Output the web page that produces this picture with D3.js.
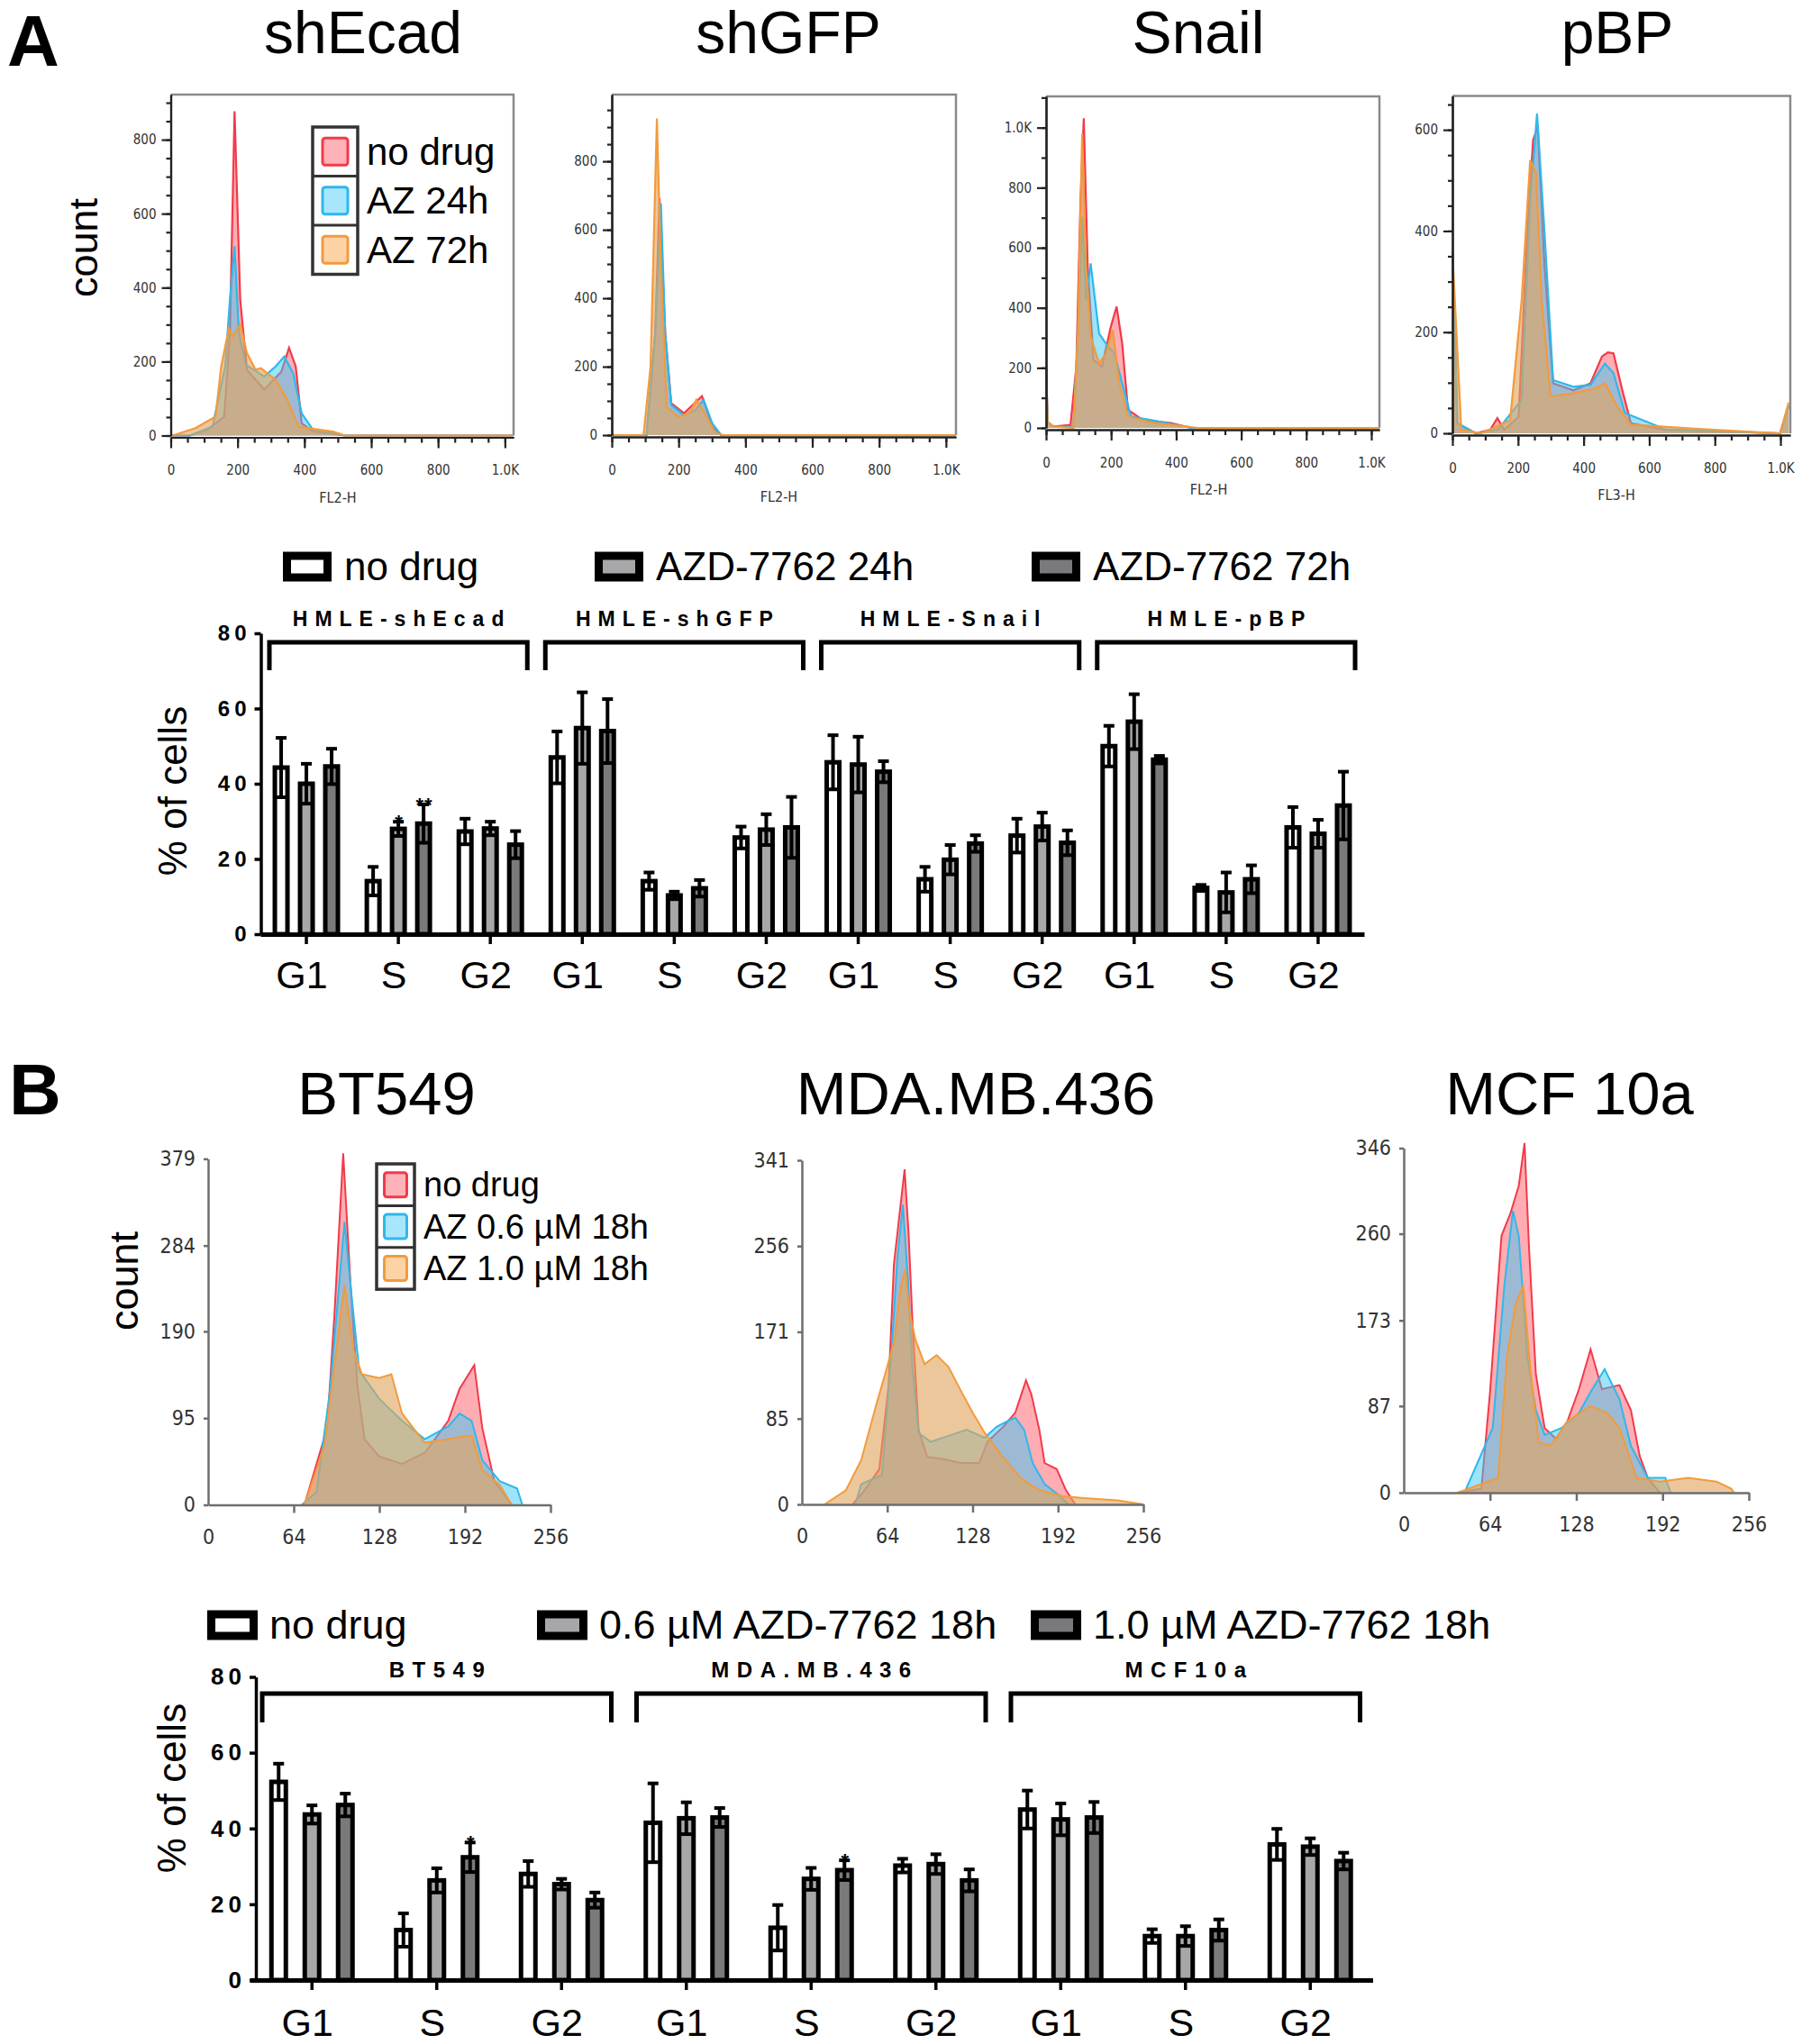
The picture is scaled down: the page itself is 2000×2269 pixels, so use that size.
<!DOCTYPE html>
<html><head><meta charset="utf-8">
<script src="https://cdn.jsdelivr.net/npm/d3@7"></script>
<style>body{margin:0;background:#fff} text{font-family:"Liberation Sans",Arial,sans-serif}</style>
</head><body><script>
// ================= DATA =================
const panelLetters = ["A", "B"];
const histTitlesA = ["shEcad", "shGFP", "Snail", "pBP"];
const histXLabelsA = ["FL2-H", "FL2-H", "FL2-H", "FL3-H"];
const histLegendA = ["no drug", "AZ 24h", "AZ 72h"];
const histXTicksA = [0, 200, 400, 600, 800, 1000];
const histYTicksA = [[0, 200, 400, 600, 800], [0, 200, 400, 600, 800], [0, 200, 400, 600, 800, 1000], [0, 200, 400, 600]];
const histYMaxA = [922, 995, 1104, 667];
const histXMaxA = [1026, 1030, 1025, 1030];
const histMinorStepA = [50, 50, 100, 50];

// [channel, count]
const shEcad_noDrug = [[0,0],[57,0],[108,15],[160,51],[177,277],[191,877],[208,367],[228,178],[280,124],[331,173],[354,237],[374,187],[392,33],[426,11],[520,0],[1025,0]];
const shEcad_AZ24 = [[0,0],[57,0],[125,24],[163,187],[177,367],[191,512],[204,277],[225,191],[280,160],[314,187],[340,214],[366,169],[392,60],[426,15],[503,5],[520,0],[1025,0]];
const shEcad_AZ72 = [[0,0],[5,0],[74,20],[134,51],[151,187],[174,290],[185,268],[208,300],[228,223],[254,178],[270,182],[290,168],[314,151],[349,96],[383,24],[451,15],[486,11],[520,0],[1025,0]];
const shGFP_noDrug = [[0,0],[104,0],[130,297],[143,692],[160,297],[178,93],[216,64],[270,114],[301,25],[327,0],[1030,0]];
const shGFP_AZ24 = [[0,0],[104,0],[130,297],[147,677],[160,297],[178,88],[216,58],[250,73],[275,103],[301,34],[327,0],[1030,0]];
const shGFP_AZ72 = [[0,0],[95,0],[116,200],[135,925],[147,492],[164,83],[198,54],[233,64],[253,103],[284,54],[310,5],[336,0],[1030,0]];
const snail_noDrug = [[0,200],[5,20],[22,4],[75,10],[93,204],[106,759],[116,1031],[128,537],[146,226],[172,204],[199,337],[217,404],[234,282],[252,60],[296,27],[384,16],[446,0],[1025,0]];
const snail_AZ24 = [[0,200],[5,20],[22,4],[84,4],[98,315],[111,703],[123,426],[137,548],[163,315],[190,271],[210,250],[234,148],[261,38],[349,21],[446,0],[1025,0]];
const snail_AZ72 = [[0,200],[5,20],[22,4],[84,0],[98,315],[111,980],[123,537],[137,304],[163,215],[184,248],[205,326],[225,148],[252,38],[331,16],[437,4],[465,0],[1025,0]];
const pBP_noDrug = [[0,360],[15,20],[71,0],[115,7],[137,30],[158,7],[202,33],[228,395],[246,580],[260,606],[281,329],[307,99],[369,85],[421,99],[456,152],[474,160],[491,158],[518,85],[544,20],[649,7],[772,4],[999,0],[1025,55]];
const pBP_AZ24 = [[0,360],[15,20],[71,0],[140,8],[211,66],[237,461],[258,632],[281,395],[307,105],[369,92],[421,96],[465,138],[491,119],[526,40],[649,8],[999,0],[1025,55]];
const pBP_AZ72 = [[0,360],[27,7],[88,0],[176,26],[211,263],[237,540],[255,514],[272,263],[299,73],[369,79],[439,89],[465,99],[500,55],[544,17],[772,8],[999,0],[1025,61]];

const histTitlesB = ["BT549", "MDA.MB.436", "MCF 10a"];
const histLegendB = ["no drug", "AZ 0.6 µM 18h", "AZ 1.0 µM 18h"];
const histXTicksB = [0, 64, 128, 192, 256];
const histYTicksB = [[0, 95, 190, 284, 379], [0, 85, 171, 256, 341], [0, 87, 173, 260, 346]];
const bt549_noDrug = [[72,0],[89,84],[94.5,210],[101,385],[106.5,241],[111.6,131],[117,72],[128,53],[145,45],[162,57],[179.5,92],[188,127],[199,153],[205,84],[214,26],[227,0]];
const bt549_AZ06 = [[70,0],[81,14],[91,124],[102,310],[107,233],[113,147],[128,116],[145,92],[162,72],[179.5,86],[188,100],[197,92],[205,49],[218,26],[231,18],[235,0]];
const bt549_AZ10 = [[72,0],[87,65],[98,194],[102,241],[108.6,170],[115,143],[128,139],[137,143],[145,100],[162,68],[179.5,72],[197,76],[205,38],[218,22],[227,0]];
const mda_noDrug = [[38,0],[47,14],[58,35],[65,118],[69,238],[74,297],[77,332],[80,268],[83,178],[87.5,74],[94,47],[105.5,45],[119,41],[133,41],[139,62],[151,77],[160,91],[168,123],[172,109],[178,74],[182,41],[191,35],[198,14],[205,0]];
const mda_AZ06 = [[40,0],[44.5,20],[60,29],[67,148],[71.6,244],[75.7,297],[79.5,223],[83,133],[87.5,71],[96.5,62],[110,68],[123.6,74],[137,66],[146,77],[155,83],[160,86],[166.6,74],[173,41],[182,20],[191,11],[200,0]];
const mda_AZ10 = [[17,0],[33,14],[44.5,44],[56,100],[62.6,130],[69.4,163],[74,214],[77.3,233],[80.7,190],[85.2,163],[92,139],[101,148],[110,136],[119,113],[128,91],[137,71],[150.7,47],[164,26],[178,14],[196,8],[214,6],[236.6,4],[256,0]];
const mcf_noDrug = [[40,0],[57.6,4],[64,101],[72.5,258],[79,280],[85.3,308],[89.6,351],[93,244],[98,119],[104.5,65],[113,54],[121.5,72],[130,104],[138.6,144],[147,104],[160,108],[168.5,83],[175,37],[181,15],[190,0]];
const mcf_AZ06 = [[45,0],[66,65],[74.6,208],[81,283],[85.3,258],[91.7,137],[98,83],[104.5,58],[117,65],[130,80],[138.6,101],[149,124],[160,94],[168.5,47],[181,15],[194,15],[198,0]];
const mcf_AZ10 = [[40,0],[70,15],[76.7,137],[83,190],[88.7,208],[93.8,126],[100,51],[109,47],[121.5,72],[138.6,87],[151,80],[160,65],[172.7,15],[190,11],[211,15],[232,11],[243,4],[245,0]];

// Bar charts
const phases = ["G1", "S", "G2"];
const barGroupsA = ["HMLE-shEcad", "HMLE-shGFP", "HMLE-Snail", "HMLE-pBP"];
const barSeriesA = ["no drug", "AZD-7762 24h", "AZD-7762 72h"];
const barA_noDrug_mean = [44.3,14.1,27.3, 47.0,14.1,25.7, 45.7,14.6,26.2, 50.0,12.3,28.4];
const barA_noDrug_sd   = [7.9,3.8,3.4, 6.9,2.3,2.9, 7.2,3.3,4.5, 5.4,0.8,5.4];
const barA_AZ24_mean   = [40.0,28.0,28.1, 54.8,10.3,27.8, 45.1,19.8,28.6, 56.5,11.1,26.7];
const barA_AZ24_sd     = [5.3,1.9,1.8, 9.5,1.0,4.1, 7.4,3.9,3.7, 7.3,5.3,3.7];
const barA_AZ72_mean   = [44.6,29.4,23.8, 54.0,12.2,28.4, 43.2,24.1,24.3, 46.4,14.6,34.2];
const barA_AZ72_sd     = [4.7,5.1,3.6, 8.5,2.2,8.1, 2.8,2.2,3.3, 1.0,3.7,9.0];
const barA_AZ24_stars  = ["","*","", "","","", "","","", "","",""];
const barA_AZ72_stars  = ["","**","", "","","", "","","", "","",""];

const barGroupsB = ["BT549", "MDA.MB.436", "MCF10a"];
const barSeriesB = ["no drug", "0.6 µM AZD-7762 18h", "1.0 µM AZD-7762 18h"];
const barB_noDrug_mean = [52.3,13.2,28.0, 41.5,13.8,30.2, 45.0,11.6,35.8];
const barB_noDrug_sd   = [4.8,4.4,3.4, 10.4,6.0,1.8, 5.0,1.8,4.1];
const barB_AZ06_mean   = [43.7,26.3,25.3, 42.7,26.7,30.6, 42.4,11.6,35.2];
const barB_AZ06_sd     = [2.4,3.2,1.4, 4.2,2.9,2.6, 4.2,2.6,2.2];
const barB_AZ10_mean   = [46.2,32.4,21.1, 42.9,29.0,26.3, 42.9,13.2,31.4];
const barB_AZ10_sd     = [3.0,3.9,2.0, 2.5,2.6,2.9, 4.1,2.8,2.2];
const barB_AZ06_stars  = ["","","", "","","", "","",""];
const barB_AZ10_stars  = ["","*","", "","*","", "","",""];
const barYTicks = [0, 20, 40, 60, 80];

// ================= STYLE =================
const histColors = [
  {fill:"#ff5c68", fo:0.5, stroke:"#f23a4a", light:"#ffb3b8"},
  {fill:"#3cc8f5", fo:0.5, stroke:"#2fb8ea", light:"#a8e6fb"},
  {fill:"#e0a560", fo:0.62, stroke:"#f29b3c", light:"#fdd3a6"}
];
const barFills = ["#ffffff", "#a7a7a9", "#7a7a7c"];
const narrow = "'Liberation Sans Narrow','DejaVu Sans Condensed','Liberation Sans',Arial";

const W = 2000, H = 2269;
const svg = d3.select("body").append("svg").attr("width", W).attr("height", H)
  .style("display","block");
svg.append("rect").attr("width", W).attr("height", H).attr("fill", "#fff");

// panel letters
svg.append("text").attr("x", 8).attr("y", 73).text(panelLetters[0])
  .attr("font-size", 80).attr("font-weight", "bold");
svg.append("text").attr("x", 10).attr("y", 1237).text(panelLetters[1])
  .attr("font-size", 80).attr("font-weight", "bold");

// ================= HISTOGRAMS A =================
const histLayoutA = [
  {l:189.5, r:570, t:105, b:483.5, tx:403},
  {l:679, r:1061, t:105, b:483, tx:875},
  {l:1161, r:1531, t:107, b:475, tx:1330},
  {l:1612, r:1987, t:106.5, b:481, tx:1795}
];
const seriesA = [
  [shEcad_noDrug, shEcad_AZ24, shEcad_AZ72],
  [shGFP_noDrug, shGFP_AZ24, shGFP_AZ72],
  [snail_noDrug, snail_AZ24, snail_AZ72],
  [pBP_noDrug, pBP_AZ24, pBP_AZ72]
];
const fmtK = v => v >= 1000 ? (v/1000).toFixed(1) + "K" : String(v);

histLayoutA.forEach((L, i) => {
  const x = d3.scaleLinear().domain([0, histXMaxA[i]]).range([L.l, L.r]);
  const y = d3.scaleLinear().domain([0, histYMaxA[i]]).range([L.b, L.t]);
  const g = svg.append("g");
  g.append("text").attr("x", L.tx).attr("y", 59).attr("text-anchor", "middle")
    .attr("font-size", 66).text(histTitlesA[i]);
  g.append("path").attr("d", `M${L.l},${L.t}H${L.r}V${L.b}`).attr("fill", "none")
    .attr("stroke", "#8a8a8a").attr("stroke-width", 2.5);
  const area = d3.area().x(d => x(d[0])).y0(y(0)).y1(d => y(d[1]));
  const line = d3.line().x(d => x(d[0])).y(d => y(d[1]));
  seriesA[i].forEach((s, k) => {
    g.append("path").datum(s).attr("d", area).attr("fill", histColors[k].fill)
      .attr("fill-opacity", histColors[k].fo);
    g.append("path").datum(s).attr("d", line).attr("fill", "none")
      .attr("stroke", histColors[k].stroke).attr("stroke-width", 2.2);
  });
  const minorY = d3.range(0, histYMaxA[i] + 1, histMinorStepA[i]);
  const minorX = d3.range(0, histXMaxA[i] + 1, 50);
  const ay = g.append("g").attr("transform", `translate(${L.l},0)`)
    .call(d3.axisLeft(y).tickValues(minorY).tickSize(5).tickFormat("").tickSizeOuter(0));
  const ay2 = g.append("g").attr("transform", `translate(${L.l},0)`)
    .call(d3.axisLeft(y).tickValues(histYTicksA[i]).tickSize(10).tickFormat(fmtK).tickSizeOuter(0));
  const ax = g.append("g").attr("transform", `translate(0,${L.b + 2})`)
    .call(d3.axisBottom(x).tickValues(minorX).tickSize(6).tickFormat("").tickSizeOuter(0));
  const ax2 = g.append("g").attr("transform", `translate(0,${L.b + 2})`)
    .call(d3.axisBottom(x).tickValues(histXTicksA).tickSize(12).tickFormat(fmtK).tickSizeOuter(0));
  [ay, ay2, ax, ax2].forEach(a => {
    a.selectAll("path,line").attr("stroke", "#222").attr("stroke-width", 2.2);
    a.selectAll("text").attr("font-size", 15).attr("fill", "#333").style("font-family", narrow);
  });
  ay2.selectAll("text").attr("x", -16);
  ax2.selectAll("text").attr("y", 31);
  g.append("text").attr("x", (L.l + x(1000)) / 2).attr("y", L.b + 74)
    .attr("text-anchor", "middle").attr("font-size", 16).attr("fill", "#333")
    .style("font-family", narrow).text(histXLabelsA[i]);
});
svg.append("text").attr("transform", "translate(108,275) rotate(-90)")
  .attr("text-anchor", "middle").attr("font-size", 45).text("count");

function histLegend(x0, y0, w, cellH, labels, sw, fontSize, textX) {
  const g = svg.append("g");
  g.append("rect").attr("x", x0).attr("y", y0).attr("width", w).attr("height", cellH * labels.length)
    .attr("fill", "#fff").attr("stroke", "#333").attr("stroke-width", 3.5);
  labels.forEach((lab, k) => {
    const cy = y0 + cellH * k + cellH / 2;
    if (k > 0) g.append("line").attr("x1", x0).attr("x2", x0 + w).attr("y1", y0 + cellH * k)
      .attr("y2", y0 + cellH * k).attr("stroke", "#333").attr("stroke-width", 3);
    g.append("rect").attr("x", x0 + (w - sw) / 2).attr("y", cy - sw / 2 - 1).attr("width", sw).attr("height", sw + 2)
      .attr("rx", 3).attr("fill", histColors[k].light).attr("stroke", histColors[k].stroke).attr("stroke-width", 3);
    g.append("text").attr("x", textX).attr("y", cy).attr("dominant-baseline", "central")
      .attr("font-size", fontSize).text(lab);
  });
}
histLegend(347, 141, 50, 54.5, histLegendA, 28, 42, 407);

// ================= HISTOGRAMS B =================
const histLayoutB = [
  {l:231, r:611, t:1286.4, b:1670.5, tx:429},
  {l:890, r:1269, t:1288, b:1670, tx:1083},
  {l:1558, r:1941, t:1274.5, b:1657, tx:1742}
];
const seriesB = [
  [bt549_noDrug, bt549_AZ06, bt549_AZ10],
  [mda_noDrug, mda_AZ06, mda_AZ10],
  [mcf_noDrug, mcf_AZ06, mcf_AZ10]
];
histLayoutB.forEach((L, i) => {
  const yt = histYTicksB[i];
  const x = d3.scaleLinear().domain([0, 256]).range([L.l, L.r]);
  const y = d3.scaleLinear().domain([0, yt[yt.length - 1]]).range([L.b, L.t]);
  const g = svg.append("g");
  g.append("text").attr("x", L.tx).attr("y", 1237).attr("text-anchor", "middle")
    .attr("font-size", 67).text(histTitlesB[i]);
  const area = d3.area().x(d => x(d[0])).y0(y(0)).y1(d => y(d[1]));
  const line = d3.line().x(d => x(d[0])).y(d => y(d[1]));
  seriesB[i].forEach((s, k) => {
    g.append("path").datum(s).attr("d", area).attr("fill", histColors[k].fill)
      .attr("fill-opacity", histColors[k].fo);
    g.append("path").datum(s).attr("d", line).attr("fill", "none")
      .attr("stroke", histColors[k].stroke).attr("stroke-width", 2);
  });
  const ay = g.append("g").attr("transform", `translate(${L.l},0)`)
    .call(d3.axisLeft(y).tickValues(yt).tickSize(5).tickSizeOuter(0));
  const ax = g.append("g").attr("transform", `translate(0,${L.b})`)
    .call(d3.axisBottom(x).tickValues(histXTicksB).tickSize(9).tickSizeOuter(0));
  ax.selectAll(".tick").filter(d => d === 0).select("line").remove();
  [ay, ax].forEach(a => {
    a.selectAll("path,line").attr("stroke", "#6e6e6e").attr("stroke-width", 2.5);
    a.selectAll("text").attr("font-size", 23).attr("fill", "#333").style("font-family", narrow);
  });
  ay.selectAll("text").attr("x", -14);
  ax.selectAll("text").attr("y", 27);
});
svg.append("text").attr("transform", "translate(153,1422) rotate(-90)")
  .attr("text-anchor", "middle").attr("font-size", 45).text("count");
histLegend(418, 1292, 42, 46.4, histLegendB, 25, 38, 470);

// ================= BAR CHARTS =================
function barChart(o) {
  const keys = [];
  o.groups.forEach(gr => phases.forEach(p => keys.push(gr + "|" + p)));
  const x = d3.scaleBand().domain(keys).range(o.xr);
  const y = d3.scaleLinear().domain([0, 80]).range([o.y0, o.y80]);
  const g = svg.append("g");
  o.series.forEach((s, k) => {
    g.append("rect").attr("x", o.legX[k] + 4.5).attr("y", o.legY - 12).attr("width", o.legW - 9).attr("height", 24)
      .attr("fill", barFills[k]).attr("stroke", "#000").attr("stroke-width", 9);
    g.append("text").attr("x", o.legX[k] + o.legW + o.legGap).attr("y", o.legY + 15)
      .attr("font-size", o.legFs).text(s);
  });
  o.groups.forEach((gr, gi) => {
    const x1 = x(keys[gi * 3]) + o.inset, x2 = x(keys[gi * 3 + 2]) + x.bandwidth() - o.inset;
    g.append("path").attr("d", `M${x1},${o.brB}V${o.brT}H${x2}V${o.brB}`).attr("fill", "none")
      .attr("stroke", "#000").attr("stroke-width", 5);
    g.append("text").attr("x", (x1 + x2) / 2 + o.ls / 2).attr("y", o.labY).attr("text-anchor", "middle")
      .attr("dominant-baseline", "central").attr("font-size", o.labFs).attr("font-weight", "bold")
      .attr("letter-spacing", o.ls).text(gr);
  });
  const offs = [-o.off, 0, o.off];
  o.means.forEach((arr, k) => {
    arr.forEach((m, j) => {
      const cx = x(keys[j]) + x.bandwidth() / 2 + offs[k];
      g.append("rect").attr("x", cx - o.bw / 2).attr("y", y(m)).attr("width", o.bw)
        .attr("height", y(0) - y(m)).attr("fill", barFills[k]).attr("stroke", "#000").attr("stroke-width", 5);
      const sd = o.sds[k][j];
      const lo = y(m - sd), hi = y(m + sd);
      g.append("line").attr("x1", cx).attr("x2", cx).attr("y1", lo).attr("y2", hi)
        .attr("stroke", "#000").attr("stroke-width", 4);
      [lo, hi].forEach(yy => g.append("line").attr("x1", cx - 6).attr("x2", cx + 6)
        .attr("y1", yy).attr("y2", yy).attr("stroke", "#000").attr("stroke-width", 4));
      const st = o.stars[k][j];
      if (st) g.append("text").attr("x", cx + 1).attr("y", hi + 8).attr("text-anchor", "middle")
        .attr("font-size", 22).attr("font-weight", "bold").attr("letter-spacing", 1).text(st);
    });
  });
  const ay = g.append("g").attr("transform", `translate(${o.yAxisX},0)`)
    .call(d3.axisLeft(y).tickValues(barYTicks).tickSize(7).tickSizeOuter(0));
  ay.selectAll("path,line").attr("stroke", "#000").attr("stroke-width", 3.5);
  ay.selectAll("text").attr("font-size", o.tickFs).attr("font-weight", "bold").attr("fill", "#000")
    .attr("letter-spacing", 5).attr("x", -11);
  const ax = g.append("g").attr("transform", `translate(0,${o.y0})`)
    .call(d3.axisBottom(x).tickSize(11).tickSizeOuter(0).tickFormat(d => d.split("|")[1]));
  ax.select(".domain").attr("stroke", "#000").attr("stroke-width", 5);
  ax.selectAll("line").attr("stroke", "#000").attr("stroke-width", 3.5);
  ax.selectAll("text").attr("font-size", 43).attr("fill", "#000").attr("y", o.xlabDy).attr("dy", 0).attr("x", -5);
  g.append("text").attr("transform", `translate(${o.ylabX},${o.ylabY}) rotate(-90)`)
    .attr("text-anchor", "middle").attr("font-size", 44).text("% of cells");
}

barChart({
  groups: barGroupsA, series: barSeriesA, xr: [289, 1514], y0: 1037, y80: 703,
  means: [barA_noDrug_mean, barA_AZ24_mean, barA_AZ72_mean],
  sds: [barA_noDrug_sd, barA_AZ24_sd, barA_AZ72_sd],
  stars: [barA_noDrug_mean.map(() => ""), barA_AZ24_stars, barA_AZ72_stars],
  off: 28, bw: 14, inset: 10, brT: 713, brB: 744, labY: 687, labFs: 23, ls: 8,
  legX: [314, 660, 1145], legW: 54, legGap: 14, legY: 629, legFs: 44,
  yAxisX: 289.5, tickFs: 24, xlabDy: 60, ylabX: 207, ylabY: 878
});
barChart({
  groups: barGroupsB, series: barSeriesB, xr: [277, 1523.5], y0: 2198, y80: 1861.5,
  means: [barB_noDrug_mean, barB_AZ06_mean, barB_AZ10_mean],
  sds: [barB_noDrug_sd, barB_AZ06_sd, barB_AZ10_sd],
  stars: [barB_noDrug_mean.map(() => ""), barB_AZ06_stars, barB_AZ10_stars],
  off: 37, bw: 16, inset: 14, brT: 1880, brB: 1912, labY: 1853, labFs: 24, ls: 8.5,
  legX: [230, 596, 1144], legW: 56, legGap: 13, legY: 1804, legFs: 45,
  yAxisX: 284, tickFs: 26, xlabDy: 62, ylabX: 206, ylabY: 1985
});
</script></body></html>
